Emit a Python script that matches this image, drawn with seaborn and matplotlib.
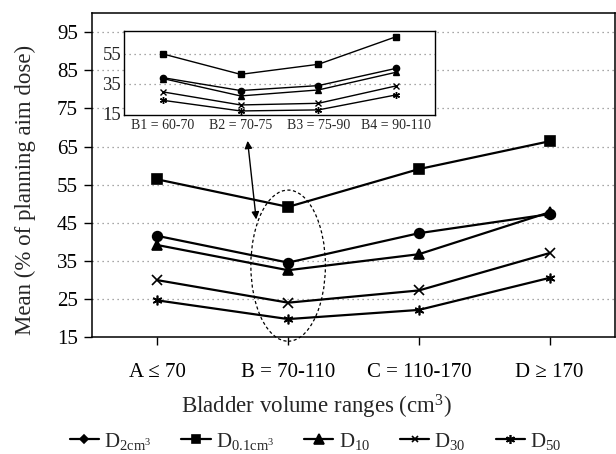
"""Mean dose metrics per bladder volume range, with an inset for the 70-110 cm3 sub-ranges."""
import numpy as np
import pandas as pd
import matplotlib
matplotlib.use("Agg")
import matplotlib.pyplot as plt
from matplotlib.lines import Line2D
from matplotlib.patches import Ellipse
import seaborn as sns

# main chart: bladder volume ranges
ranges = ["A ≤ 70", "B = 70-110", "C = 110-170", "D ≥ 170"]
d_2cm3 = [41.6, 34.6, 42.3, 47.3]
d_01cm3 = [56.4, 49.2, 59.1, 66.4]
d_10 = [39.2, 32.6, 36.8, 47.8]
d_30 = [30.0, 24.1, 27.3, 37.1]
d_50 = [24.7, 19.8, 22.2, 30.6]

# inset: sub-ranges of B
sub_ranges = ["B1 = 60-70", "B2 = 70-75", "B3 = 75-90", "B4 = 90-110"]
sub_2cm3 = [39.2, 30.6, 33.9, 45.4]
sub_01cm3 = [55.0, 41.4, 48.1, 66.5]
sub_10 = [38.6, 27.0, 31.0, 42.8]
sub_30 = [29.7, 21.0, 22.1, 33.7]
sub_50 = [24.1, 17.0, 17.7, 27.7]

metrics = ["D2cm3", "D0.1cm3", "D10", "D30", "D50"]
labels = [r"D$_{\mathrm{2cm^3}}$", r"D$_{\mathrm{0.1cm^3}}$", r"D$_{10}$", r"D$_{30}$", r"D$_{50}$"]

ASTERISK = (6, 2, 0)
markers = {"D2cm3": "o", "D0.1cm3": "s", "D10": "^", "D30": "x", "D50": ASTERISK}
main_sizes = {"D2cm3": 7, "D0.1cm3": 6.5, "D10": 7.5, "D30": 6.5, "D50": 7}
inset_sizes = {"D2cm3": 4.5, "D0.1cm3": 4.5, "D10": 5, "D30": 5, "D50": 5}
legend_markers = {"D2cm3": "D", "D0.1cm3": "s", "D10": "^", "D30": "x", "D50": ASTERISK}
legend_sizes = {"D2cm3": 4.5, "D0.1cm3": 5.5, "D10": 6.5, "D30": 5, "D50": 6.5}


def long_form(cats, series):
    frames = []
    for name, vals in zip(metrics, series):
        frames.append(pd.DataFrame({"pos": np.arange(len(cats)), "dose": vals, "metric": name}))
    return pd.concat(frames, ignore_index=True)


main_df = long_form(ranges, [d_2cm3, d_01cm3, d_10, d_30, d_50])
inset_df = long_form(sub_ranges, [sub_2cm3, sub_01cm3, sub_10, sub_30, sub_50])

sns.set_style("white")
plt.rcParams["font.family"] = ["Liberation Serif", "DejaVu Serif"]
plt.rcParams["mathtext.fontset"] = "custom"
plt.rcParams["mathtext.rm"] = "Liberation Serif"
plt.rcParams["mathtext.it"] = "Liberation Serif:italic"

W, H = 616, 454
fig = plt.figure(figsize=(W / 100, H / 100), dpi=100)
ax = fig.add_axes([92 / W, 1 - 337.4 / H, 523 / W, 324.4 / H])

grid_kw = dict(color="#8a8a8a", linestyle=(0, (1, 3)), linewidth=0.9)

for name in metrics:
    sns.lineplot(
        data=main_df[main_df.metric == name], x="pos", y="dose", ax=ax,
        color="black", linewidth=1.6, marker=markers[name], markersize=main_sizes[name],
        markeredgecolor="black", markerfacecolor="black", markeredgewidth=1.2,
        zorder=3,
    )

ax.set_xlim(-0.5, 3.5)
ax.set_ylim(15, 100)
ax.set_yticks(np.arange(15, 100, 10))
ax.set_xticks(np.arange(len(ranges)))
ax.set_xticklabels(ranges)
for y in np.arange(25, 100, 10):
    ax.axhline(y, zorder=0, **grid_kw)
for s in ax.spines.values():
    s.set_color("black")
    s.set_linewidth(1.1)
ax.tick_params(axis="x", direction="out", length=5.5, width=1, pad=13, labelsize=15, colors="black")
ax.tick_params(axis="y", direction="out", length=6, width=1, pad=4, labelsize=15, colors="black")
ax.tick_params(left=True, bottom=True)

ax.set_xlabel(r"Bladder volume ranges (cm$^3$)", fontsize=16.5)
ax.set_ylabel("Mean (% of planning aim dose)", fontsize=16.5)
ax.xaxis.set_label_coords((316 - 92) / 523, (337.4 - 407) / 324.4)
ax.xaxis.label.set_va("center")
ax.yaxis.set_label_coords((25 - 92) / 523, (337.4 - 190) / 324.4)
ax.yaxis.label.set_va("center")

# dashed ellipse round range B and the arrow to the inset
ax.add_patch(Ellipse((1, 33.8), 0.57, 39.6, fill=False, edgecolor="black",
                     linestyle=(0, (2.5, 2)), linewidth=0.9, clip_on=False, zorder=2))
ax.annotate("", xy=(0.69, 66.5), xytext=(0.756, 45.9),
            arrowprops=dict(arrowstyle="<|-|>", color="black", lw=1,
                            mutation_scale=11, shrinkA=0, shrinkB=0))

# inset
ins = fig.add_axes([124 / W, 1 - 115 / H, 311 / W, 84.3 / H])
ins.set_facecolor("white")
for name in metrics:
    sns.lineplot(
        data=inset_df[inset_df.metric == name], x="pos", y="dose", ax=ins,
        color="black", linewidth=1.0, marker=markers[name], markersize=inset_sizes[name],
        markeredgecolor="black", markerfacecolor="black", markeredgewidth=1.0,
        zorder=3,
    )
ins.set_xlim(-0.5, 3.5)
ins.set_ylim(14.3, 70.5)
ins.set_yticks([15, 35, 55])
ins.set_xticks(np.arange(len(sub_ranges)))
ins.set_xticklabels(sub_ranges)
for y in [35, 55]:
    ins.axhline(y, zorder=0, **grid_kw)
for s in ins.spines.values():
    s.set_color("black")
    s.set_linewidth(1.0)
ins.tick_params(axis="x", length=0, pad=3, labelsize=10)
ins.tick_params(axis="y", length=0, pad=2, labelsize=13.5)
ins.set_xlabel("")
ins.set_ylabel("")

handles = [
    Line2D([], [], color="black", linewidth=1.6, marker=legend_markers[m],
           markersize=legend_sizes[m], markerfacecolor="black", markeredgecolor="black",
           markeredgewidth=1.2)
    for m in metrics
]
fig.legend(handles, labels, loc="center", bbox_to_anchor=(315.5 / W, 1 - 441 / H),
           ncol=5, frameon=False, fontsize=15, handlelength=1.4, handletextpad=0.25,
           columnspacing=1.45, borderpad=0, borderaxespad=0)

fig.savefig("out.png", dpi=100)
